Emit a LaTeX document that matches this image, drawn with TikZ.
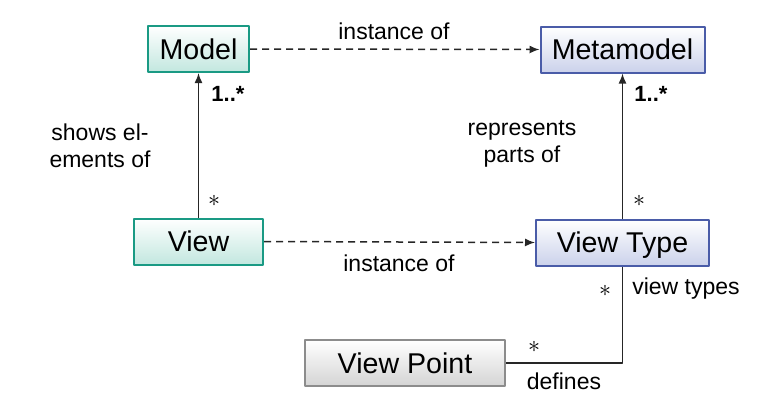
\documentclass[tikz,border=0pt]{standalone}
\usepackage{fontspec}
\setmainfont{Liberation Sans}
\usetikzlibrary{arrows.meta}
\definecolor{modelline}{HTML}{1A9A84}
\definecolor{modelfill}{HTML}{C2E7DF}
\definecolor{metaline}{HTML}{4A5CA8}
\definecolor{metafill}{HTML}{CBD2EB}
\definecolor{pointline}{HTML}{8C8C8C}
\definecolor{pointfill}{HTML}{D4D4D4}
\definecolor{wire}{HTML}{262626}
\begin{document}
\begin{tikzpicture}[x=0.5pt, y=-0.5pt, font=\fontsize{11.5}{13.5}\selectfont, line join=round, >={Latex[length=5pt,width=4pt]},
	box/.style={line width=1pt, minimum height=23pt, inner sep=0pt, text height=10.3pt, text depth=0pt, font=\fontsize{14.3}{16}\selectfont},
	modelbox/.style={box, draw=modelline, top color=white, bottom color=modelfill},
	metabox/.style={box, draw=metaline, top color=white, bottom color=metafill},
	pointbox/.style={box, draw=pointline, top color=white, bottom color=pointfill},
	wire/.style={draw=wire, line width=0.75pt},
	instof/.style={wire, dash pattern=on 3.5pt off 2.5pt, ->},
	mult/.style={font=\bfseries\fontsize{11}{12}\selectfont},
	]
	\useasboundingbox (0,0) rectangle (766,413);
	\path
	(198.5,49) node[modelbox, minimum width=50.5pt] (model) {Model}
	(622.5,49.5) node[metabox, minimum width=82pt] (metamodel) {Metamodel}
	(198.5,241.5) node[modelbox, minimum width=64.5pt] (view) {View}
	(622.5,242.5) node[metabox, minimum width=86.5pt] (viewtype) {View Type}
	(405,363) node[pointbox, minimum width=100pt] (viewpoint) {View Point}
	;
	\draw[instof] (model.east) -- (metamodel.west);
	\draw[instof] (view.east) -- (viewtype.west);
	\draw[wire, ->] (view.north) -- (model.south);
	\draw[wire, ->] (viewtype.north) -- (metamodel.south);
	\draw[wire] (viewpoint.east) -| (viewtype.south);
	\path
	(394,31) node (instup) {instance of}
	(399,263) node (instdown) {instance of}
	(228,94) node[mult] (multmodel) {1..*}
	(651,94) node[mult] (multmeta) {1..*}
	(100,146) node[align=center] (shows) {shows el-\\ements of}
	(522,144) node[align=center] (represents) {represents\\parts of}
	(214,201) node (starview) {$\ast$}
	(639,201) node (startype) {$\ast$}
	(605,291) node (starviews) {$\ast$}
	(534,347) node (starpoint) {$\ast$}
	(686,289) node (viewtypes) {view types}
	(564,381) node (defines) {defines}
	;
\end{tikzpicture}
\end{document}
